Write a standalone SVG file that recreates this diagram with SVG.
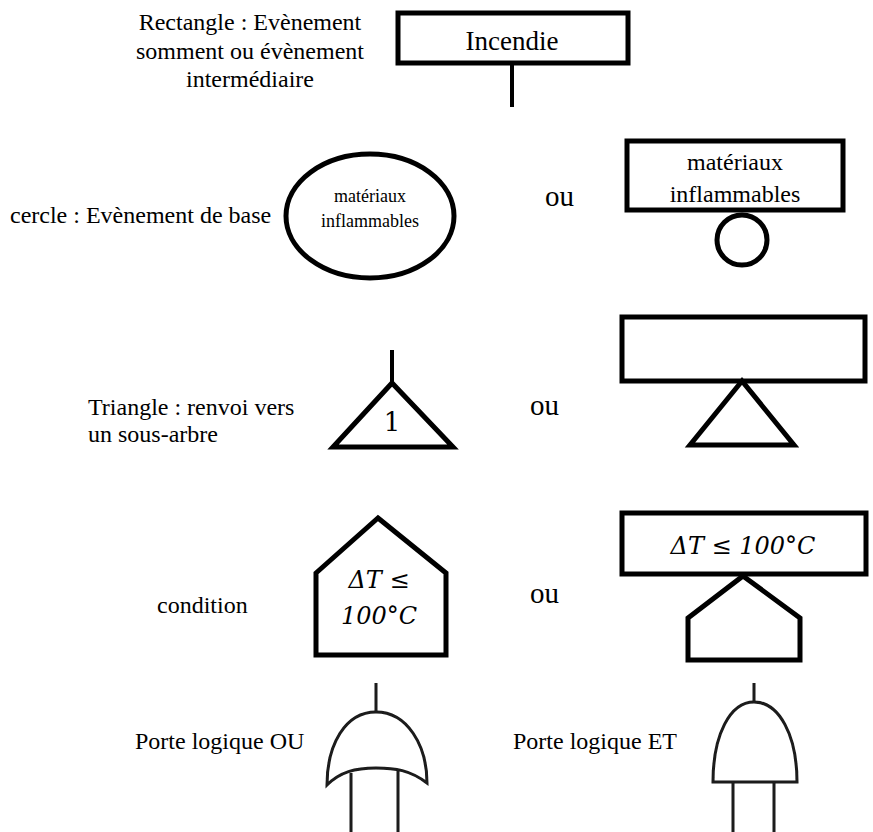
<svg xmlns="http://www.w3.org/2000/svg" width="873" height="832" viewBox="0 0 873 832">
  <style>
    .lbl { font-family: "Liberation Serif", "Times New Roman", serif; font-size: 24px; fill: #000; }
    .ou { font-family: "Liberation Serif", "Times New Roman", serif; font-size: 29px; fill: #000; }
    .node-txt { font-family: "Liberation Serif", "Times New Roman", serif; fill: #000; text-anchor: middle; }
    .math { font-family: "DejaVu Serif", "Liberation Serif", serif; font-style: italic; fill: #000; text-anchor: middle; font-size: 24px; }
    .shape { fill: #fff; stroke: #000; stroke-width: 5; }
    .wire { stroke: #000; stroke-width: 4; fill: none; }
    .gate { fill: none; stroke: #1a1a1a; stroke-width: 3; }
  </style>
  <defs>
    <filter id="soft" x="-10%" y="-10%" width="120%" height="120%">
      <feGaussianBlur stdDeviation="0.6"/>
    </filter>
  </defs>
  <rect width="873" height="832" fill="#fff"/>

  <!-- Rectangle: top / intermediate event -->
  <g id="legend-rectangle">
    <text class="lbl" text-anchor="middle" x="250" y="30">Rectangle : Evènement</text>
    <text class="lbl" text-anchor="middle" x="250" y="59">somment ou évènement</text>
    <text class="lbl" text-anchor="middle" x="250" y="87">intermédiaire</text>
  </g>
  <g id="incendie">
    <rect class="shape" x="398" y="13" width="230" height="50"/>
    <text class="node-txt" x="512" y="50" font-size="27">Incendie</text>
  </g>

  <!-- Circle: basic event -->
  <g id="legend-cercle">
    <text class="lbl" x="10" y="223">cercle : Evènement de base</text>
  </g>
  <g id="basic-ellipse">
    <ellipse class="shape" cx="370" cy="216" rx="84" ry="62" stroke-width="4.5"/>
    <text class="node-txt" x="370" y="202" font-size="18">matériaux</text>
    <text class="node-txt" x="370" y="227" font-size="18">inflammables</text>
  </g>
  <text class="ou" x="545" y="206">ou</text>
  <g id="basic-rect">
    <rect class="shape" x="627" y="141" width="216" height="69"/>
    <text class="node-txt" x="735" y="170" font-size="24">matériaux</text>
    <text class="node-txt" x="735" y="202" font-size="24">inflammables</text>
    <circle class="shape" cx="742" cy="240" r="25" stroke-width="4.5"/>
  </g>

  <!-- Triangle: transfer to a sub-tree -->
  <g id="legend-triangle">
    <text class="lbl" x="88" y="415">Triangle  : renvoi vers</text>
    <text class="lbl" x="88" y="442">un sous-arbre</text>
  </g>
  <g id="transfer-triangle">
    <polygon class="shape" points="392,383 333,447 453,447"/>
    <text x="392" y="431" font-family="DejaVu Serif, serif" font-size="26" text-anchor="middle" fill="#000">1</text>
  </g>
  <text class="ou" x="530" y="415">ou</text>
  <g id="transfer-rect">
    <rect class="shape" x="622" y="317" width="243" height="64"/>
    <polygon class="shape" points="742,381 690,445 794,445"/>
  </g>

  <!-- House: condition -->
  <g id="legend-condition">
    <text class="lbl" x="157" y="613">condition</text>
  </g>
  <g id="condition-house">
    <polygon class="shape" points="378,518 446,573 446,655 316,655 316,573"/>
    <text class="math" x="379" y="588">ΔT ≤</text>
    <text class="math" x="379" y="624">100°C</text>
  </g>
  <text class="ou" x="530" y="603">ou</text>
  <g id="condition-rect">
    <rect class="shape" x="622" y="513" width="244" height="61"/>
    <text class="math" x="743" y="554">ΔT ≤ 100°C</text>
    <polygon class="shape" points="743,576 800,618 800,660 688,660 688,618"/>
  </g>

  <!-- Logic gates -->
  <g id="legend-or">
    <text class="lbl" x="135" y="749">Porte logique OU</text>
  </g>
  <g id="or-gate" filter="url(#soft)">
    <path class="gate" d="M327,785 C327,745 345,712 376,712 C407,712 427,745 427,783 C410,770 395,768 376,768 C355,768 340,772 327,785 Z"/>
  </g>
  <g id="legend-et">
    <text class="lbl" x="513" y="749">Porte logique ET</text>
  </g>
  <g id="and-gate" filter="url(#soft)">
    <path class="gate" d="M713,782 C713,735 730,702 754,702 C779,702 797,735 797,782 Z"/>
  </g>

  <!-- Connectors -->
  <g id="connectors">
    <line class="wire" x1="512" y1="63" x2="512" y2="107"/>
    <line class="wire" x1="392" y1="350" x2="392" y2="384"/>
    <g filter="url(#soft)">
      <line class="gate" x1="376" y1="683" x2="376" y2="712" stroke-width="3.5"/>
      <line class="gate" x1="351" y1="773" x2="351" y2="832"/>
      <line class="gate" x1="398" y1="769" x2="398" y2="832"/>
      <line class="gate" x1="754" y1="683" x2="754" y2="702"/>
      <line class="gate" x1="733" y1="782" x2="733" y2="832"/>
      <line class="gate" x1="774" y1="782" x2="774" y2="832"/>
    </g>
  </g>
</svg>
